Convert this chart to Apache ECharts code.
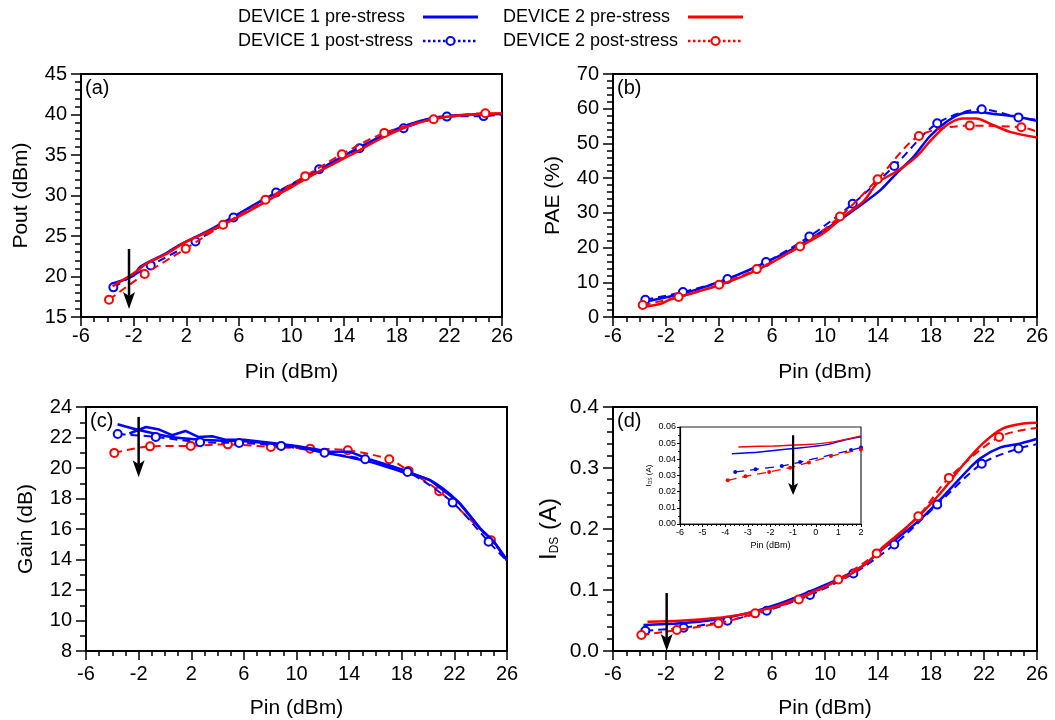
<!DOCTYPE html>
<html><head><meta charset="utf-8">
<script src="https://cdn.jsdelivr.net/npm/echarts@6/dist/echarts.min.js"></script>
<style>html,body{margin:0;padding:0;background:#fff}#c{width:1055px;height:720px}</style>
</head><body><div id="c"></div>
<script>
// ---------- DATA ----------
const seriesNames = ['DEVICE 1 pre-stress', 'DEVICE 1 post-stress', 'DEVICE 2 pre-stress', 'DEVICE 2 post-stress'];
const panelLabels = ['(a)', '(b)', '(c)', '(d)'];
const yNames = ['Pout (dBm)', 'PAE (%)', 'Gain (dB)', '{i|I}{s|DS}{i| (A)}'];
const xName = 'Pin (dBm)';

// (a) Pout
const a_d1_pre  = [[-3.67,19.1],[-2.0,20.1],[-1.5,21.2],[0.5,22.9],[1.5,23.9],[3.5,25.5],[5.6,27.4],[8.1,29.7],[10.7,31.9],[13.2,34.2],[15.7,36.4],[18.3,38.4],[20.8,39.6],[23.3,39.95],[26,40.05]];
const a_d1_post = [[-3.54,18.66],[-0.70,21.37],[2.70,24.33],[5.59,27.29],[8.83,30.37],[12.1,33.25],[15.17,35.84],[18.52,38.3],[21.81,39.74],[24.6,39.8],[26,40.0]];
const a_d2_pre  = [[-3.6,18.8],[-2.0,20.4],[-1.0,21.6],[0.5,22.8],[2.0,24.3],[4.3,26.0],[6.9,28.2],[9.4,30.5],[11.9,32.8],[14.5,35.0],[17.0,37.2],[19.5,38.9],[21.6,39.7],[24.6,40.05],[26,40.15]];
const a_d2_post = [[-3.87,17.14],[-1.16,20.3],[1.96,23.43],[4.8,26.38],[8.02,29.47],[11.04,32.39],[13.83,35.1],[17.05,37.73],[20.8,39.41],[24.73,40.15],[26,40.1]];

// (b) PAE
const b_d1_pre  = [[-3.7,4.3],[-1.7,5.9],[0.3,7.9],[2.8,11.2],[5.4,15.5],[7.9,20.3],[10.4,26.1],[12.9,32.8],[14.2,36.6],[15.4,41.4],[16.7,46.2],[17.9,52.0],[19.2,56.3],[20.4,58.7],[21.7,59.0],[22.9,58.4],[24.5,57.7],[26,56.5]];
const b_d1_post = [[-3.56,4.99],[-0.72,7.19],[2.64,10.93],[5.55,15.82],[8.82,23.2],[12.09,32.6],[15.23,43.5],[18.47,55.8],[21.83,59.83],[24.6,57.5],[26,56.8]];
const b_d2_pre  = [[-3.7,2.9],[-2.4,3.8],[-1.7,5.0],[0.3,7.2],[2.1,9.3],[4.1,12.2],[5.9,15.5],[7.9,19.9],[9.9,24.2],[11.4,29.0],[12.9,33.3],[14.0,38.8],[15.4,41.9],[16.9,46.2],[17.9,50.5],[19.2,55.3],[20.4,57.2],[21.4,57.2],[22.4,55.8],[23.9,53.4],[26,51.7]];
const b_d2_post = [[-3.76,3.45],[-1.05,5.75],[2.01,9.3],[4.85,13.8],[8.12,20.3],[11.13,28.95],[13.97,39.7],[17.09,52.16],[20.93,55.13],[24.82,54.65],[26,53.4]];

// (c) Gain
const c_d1_pre  = [[-3.6,22.87],[-1.9,22.47],[0.5,22.03],[2.3,21.88],[4,21.8],[6,21.75],[8,21.6],[10,21.4],[12.5,20.95],[14.1,20.69],[15.6,20.4],[18,19.75],[20.15,19.2],[22.3,17.78],[24,16.0],[25,15.16],[26,13.95]];
const c_d1_post = [[-3.59,22.23],[-0.70,22.04],[2.67,21.69],[5.64,21.64],[8.83,21.45],[12.13,21.0],[15.22,20.57],[18.44,19.74],[21.87,17.73],[24.6,15.16],[26,13.9]];
const c_d2_pre  = [[-2.7,22.26],[-1.44,22.69],[-0.43,22.52],[0.54,22.15],[1.56,22.43],[2.57,22.03],[3.58,22.08],[4.6,21.86],[6,21.85],[8,21.65],[10,21.45],[12.55,21.06],[14.07,21.06],[15.59,20.56],[18,19.9],[20.15,19.2],[22.3,17.78],[24,16.0],[25,15.16],[26,13.95]];
const c_d2_post = [[-3.85,20.99],[-1.13,21.42],[1.96,21.45],[4.78,21.55],[8.05,21.38],[11.04,21.27],[13.9,21.16],[17.05,20.57],[18.52,19.81],[20.85,18.48],[24.78,15.27],[26,13.95]];

// (d) IDS
const d_d1_pre  = [[-3.7,0.0426],[-0.9,0.0453],[1.8,0.0518],[4.1,0.0617],[6.6,0.078],[9.1,0.0999],[11.6,0.124],[13.1,0.1435],[14.4,0.168],[15.9,0.1926],[17.4,0.22],[18.9,0.2527],[20.4,0.288],[21.7,0.3154],[23.2,0.3334],[24.7,0.34],[26,0.348]];
const d_d1_post = [[-3.56,0.0333],[-0.67,0.0382],[2.64,0.0497],[5.6,0.066],[8.87,0.0917],[12.14,0.127],[15.23,0.1746],[18.47,0.240],[21.83,0.307],[24.6,0.332],[26,0.339]];
const d_d2_pre  = [[-3.4,0.048],[-0.9,0.0497],[1.6,0.0535],[4.1,0.0617],[6.6,0.0753],[9.1,0.0971],[11.6,0.1217],[13.1,0.1435],[14.4,0.171],[15.9,0.198],[17.4,0.228],[18.9,0.2636],[20.4,0.3045],[21.9,0.34],[23.4,0.3645],[25,0.373],[26,0.374]];
const d_d2_post = [[-3.86,0.0262],[-1.18,0.0344],[1.96,0.0453],[4.73,0.0617],[8.02,0.0846],[11.0,0.1173],[13.9,0.160],[17.04,0.221],[19.35,0.2838],[23.14,0.351],[26,0.366]];

// inset of (d)
const i_d1_pre  = [[-3.71,0.0434],[-2.46,0.0446],[-0.98,0.0467],[0.49,0.0491],[1.23,0.0518],[2,0.0539]];
const i_d1_post = [[-3.56,0.0322],[-2.66,0.0338],[-1.5,0.0358],[-0.69,0.0383],[1.56,0.0457],[2,0.0473]];
const i_d2_pre  = [[-3.42,0.0477],[-1.87,0.0483],[-0.39,0.0491],[0.79,0.0508],[2,0.0545]];
const i_d2_post = [[-3.89,0.027],[-3.11,0.0295],[-2.06,0.0322],[-1.13,0.0348],[-0.3,0.0381],[0.67,0.042],[2,0.0461]];

// arrows: [x, yStart, yTip] per panel (a, c, d, inset)
const arrow_a = [-2.35, 23.4, 16.0];
const arrow_c = [-2.0, 23.35, 19.4];
const arrow_d = [-1.95, 0.095, 0.0];
const arrow_i = [-1.0, 0.0549, 0.018];

// axis ranges
const xMain = {min: -6, max: 26, interval: 4};
const xInset = {min: -6, max: 2, interval: 1};
const yRanges = [
  {min: 15, max: 45, interval: 5, minor: 5},
  {min: 0, max: 70, interval: 10, minor: 5},
  {min: 8, max: 24, interval: 2, minor: 2},
  {min: 0, max: 0.4, interval: 0.1, minor: 5},
  {min: 0, max: 0.06, interval: 0.01, minor: 2}
];

// ---------- CHART ----------
const FONT = 'Liberation Sans, Arial, sans-serif';
const BLUE = '#0000ff', RED = '#ff0000';
const chart = echarts.init(document.getElementById('c'), null, {renderer: 'canvas'});

const gridBoxes = [
  {left: 81, top: 74, width: 421, height: 243},
  {left: 613, top: 74, width: 424, height: 243},
  {left: 86, top: 407, width: 421, height: 244},
  {left: 613, top: 407, width: 424, height: 244},
  {left: 680, top: 427, width: 181, height: 97}
];
const grid = gridBoxes.map((g, i) => Object.assign({
  show: true, borderColor: i === 4 ? '#222' : '#000', borderWidth: i === 4 ? 1.2 : 2,
  backgroundColor: '#fff', containLabel: false, outerBoundsMode: 'none'
}, g));

function xAxisFor(i) {
  const inset = i === 4;
  const r = inset ? xInset : xMain;
  return {
    type: 'value', gridIndex: i, min: r.min, max: r.max, interval: r.interval,
    name: xName, nameLocation: 'middle', nameGap: inset ? 17 : (i >= 2 ? 47 : 45),
    nameTextStyle: {fontFamily: FONT, fontSize: inset ? 9 : 21, color: '#000'},
    axisLine: {show: true, onZero: false, lineStyle: {color: '#000', width: inset ? 1.2 : 2}},
    axisTick: {show: true, inside: false, length: inset ? 3 : 9, lineStyle: {color: '#000', width: inset ? 1 : 1.5}},
    minorTick: {show: true, splitNumber: inset ? 5 : 4, length: inset ? 2 : 5, lineStyle: {color: '#000', width: inset ? 1 : 1.5}},
    splitLine: {show: false},
    axisLabel: {fontFamily: FONT, fontSize: inset ? 9 : 20, color: '#000', margin: inset ? 4 : (i >= 2 ? 13 : 9)}
  };
}
function yAxisFor(i) {
  const inset = i === 4;
  const r = yRanges[i];
  const dec = i === 3 ? 1 : (i === 4 ? 2 : 0);
  const isIds = i === 3 || i === 4;
  return {
    type: 'value', gridIndex: i, min: r.min, max: r.max, interval: r.interval,
    name: inset ? yNames[3] : yNames[i], nameLocation: 'middle',
    nameGap: inset ? 27 : (i === 3 ? 52 : 49),
    nameTextStyle: isIds ? {
      fontFamily: FONT, color: '#000',
      rich: {
        i: {fontFamily: FONT, fontSize: inset ? 8 : 24, color: '#000'},
        s: {fontFamily: FONT, fontSize: inset ? 5 : 12, color: '#000', verticalAlign: 'bottom'}
      }
    } : {fontFamily: FONT, fontSize: 21, color: '#000'},
    axisLine: {show: true, onZero: false, lineStyle: {color: '#000', width: inset ? 1.2 : 2}},
    axisTick: {show: true, inside: false, length: inset ? 3 : 10, lineStyle: {color: '#000', width: inset ? 1 : 1.5}},
    minorTick: {show: true, splitNumber: r.minor, length: inset ? 2 : 6, lineStyle: {color: '#000', width: inset ? 1 : 1.5}},
    splitLine: {show: false},
    axisLabel: {fontFamily: FONT, fontSize: inset ? 9 : (i === 3 ? 21 : 20), color: '#000', margin: inset ? 4 : 14,
      formatter: v => v.toFixed(dec)}
  };
}

function solid(name, data, color, gi, z, smooth) {
  return {type: 'line', name, xAxisIndex: gi, yAxisIndex: gi, data, smooth: smooth === undefined ? 0.3 : smooth,
    symbol: 'none', showSymbol: false, lineStyle: {color, width: gi === 4 ? 1.5 : 2.5},
    itemStyle: {color}, z: z || 2, silent: true, emphasis: {disabled: true}};
}
function post(name, data, color, gi, z, markAll) {
  const inset = gi === 4;
  const n = data.length;
  return {type: 'line', name, xAxisIndex: gi, yAxisIndex: gi, data, smooth: inset ? 0 : 0.3,
    symbol: inset ? 'circle' : 'emptyCircle',
    symbolSize: (v, p) => (!markAll && p.dataIndex === n - 1) ? 0 : (inset ? 4 : 8),
    showSymbol: true,
    lineStyle: {color, width: inset ? 1.3 : 2, type: inset ? [9, 6] : [8, 5]},
    itemStyle: {color, borderWidth: inset ? 0 : 2}, z: z || 3, silent: true, emphasis: {disabled: true}};
}
function arrow(gi, a) {
  const inset = gi === 4;
  return {type: 'custom', xAxisIndex: gi, yAxisIndex: gi, data: [a], silent: true, z: 10,
    encode: {x: 0, y: [1, 2]},
    renderItem: (params, api) => {
      const p1 = api.coord([api.value(0), api.value(1)]);
      const p2 = api.coord([api.value(0), api.value(2)]);
      const hl = inset ? 12 : 17, hw = inset ? 5 : 6, notch = inset ? 9 : 13;
      return {type: 'group', children: [
        {type: 'line', shape: {x1: p1[0], y1: p1[1], x2: p2[0], y2: p2[1] - notch},
          style: {stroke: '#000', lineWidth: inset ? 2.2 : 2.5}},
        {type: 'polygon', shape: {points: [[p2[0], p2[1]], [p2[0] - hw, p2[1] - hl], [p2[0], p2[1] - notch], [p2[0] + hw, p2[1] - hl]]},
          style: {fill: '#000'}}
      ]};
    }};
}

const series = [
  solid(seriesNames[0], a_d1_pre, BLUE, 0), post(seriesNames[1], a_d1_post, BLUE, 0),
  solid(seriesNames[2], a_d2_pre, RED, 0, 4), post(seriesNames[3], a_d2_post, RED, 0, 5),
  arrow(0, arrow_a),
  solid(seriesNames[0], b_d1_pre, BLUE, 1), post(seriesNames[1], b_d1_post, BLUE, 1),
  solid(seriesNames[2], b_d2_pre, RED, 1, 4), post(seriesNames[3], b_d2_post, RED, 1, 5),
  // (c): red post-stress underneath, both pre-stress traces drawn in blue as in the figure
  post(seriesNames[3], c_d2_post, RED, 2, 2),
  solid(seriesNames[2], c_d2_pre, BLUE, 2, 3, false), solid(seriesNames[0], c_d1_pre, BLUE, 2, 4),
  post(seriesNames[1], c_d1_post, BLUE, 2, 5),
  arrow(2, arrow_c),
  solid(seriesNames[0], d_d1_pre, BLUE, 3), post(seriesNames[1], d_d1_post, BLUE, 3),
  solid(seriesNames[2], d_d2_pre, RED, 3, 4), post(seriesNames[3], d_d2_post, RED, 3, 5),
  arrow(3, arrow_d),
  solid(seriesNames[0], i_d1_pre, BLUE, 4), post(seriesNames[1], i_d1_post, BLUE, 4, 3, true),
  solid(seriesNames[2], i_d2_pre, RED, 4, 4), post(seriesNames[3], i_d2_post, RED, 4, 5, true),
  arrow(4, arrow_i)
];

function legendFor(idx, left, top) {
  const isPost = idx % 2 === 1;
  const color = idx < 2 ? BLUE : RED;
  const item = {name: seriesNames[idx], itemStyle: {color, borderColor: color}};
  if (isPost) item.lineStyle = {color, type: 'dotted', width: 2.5};
  else item.icon = 'rect';
  return {
    show: true, left, top, padding: 0, orient: 'horizontal', align: 'right',
    selectedMode: false, itemWidth: 55, itemHeight: isPost ? 10 : 3,
    data: [item],
    formatter: n => '{t|' + n + '}',
    textStyle: {fontFamily: FONT, fontSize: 18, color: '#000',
      rich: {t: {fontFamily: FONT, fontSize: 18, color: '#000', width: 180, align: 'left'}}}
  };
}

const titles = panelLabels.map((t, i) => ({
  text: t, left: gridBoxes[i].left + 4, top: gridBoxes[i].top + 4, padding: 0,
  textStyle: {fontFamily: FONT, fontSize: 20, fontWeight: 'normal', color: '#000'}
}));

chart.setOption({
  animation: false,
  backgroundColor: '#fff',
  textStyle: {fontFamily: FONT},
  title: titles,
  legend: [legendFor(0, 238, 8), legendFor(1, 238, 32), legendFor(2, 503, 8), legendFor(3, 503, 32)],
  grid,
  xAxis: [0, 1, 2, 3, 4].map(xAxisFor),
  yAxis: [0, 1, 2, 3, 4].map(yAxisFor),
  series
});
</script></body></html>
